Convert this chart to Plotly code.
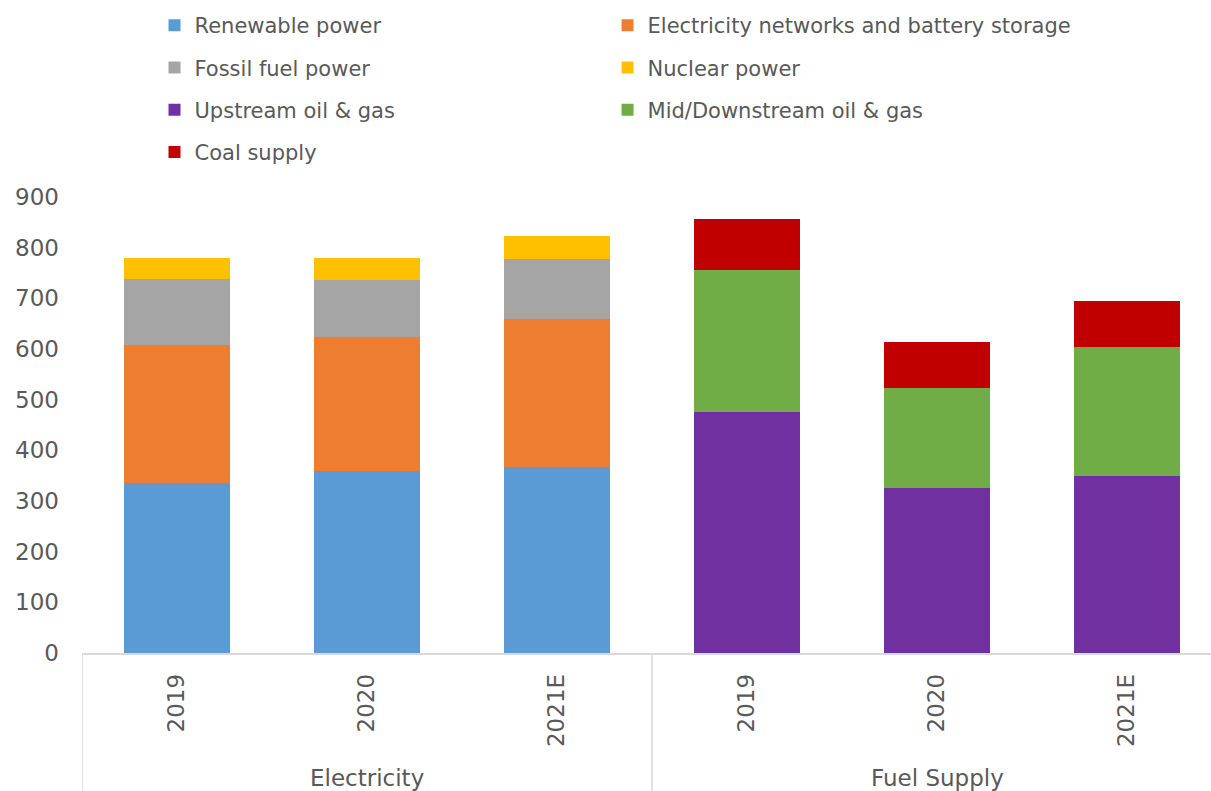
import plotly.graph_objects as go

positions = [0, 1, 2, 3, 4, 5]
tick_labels = ["2019", "2020", "2021E", "2019", "2020", "2021E"]
groups = ["Electricity", "Fuel Supply"]

renewable = [336, 359, 367, None, None, None]
networks = [272, 265, 292, None, None, None]
fossil = [130, 112, 119, None, None, None]
nuclear = [42, 44, 45, None, None, None]
upstream = [None, None, None, 476, 326, 349]
midstream = [None, None, None, 280, 197, 255]
coal = [None, None, None, 101, 91, 91]

series = [
    ("Renewable power", renewable, "#5B9BD5", "legend"),
    ("Electricity networks and battery storage", networks, "#ED7D31", "legend2"),
    ("Fossil fuel power", fossil, "#A5A5A5", "legend"),
    ("Nuclear power", nuclear, "#FFC000", "legend2"),
    ("Upstream oil & gas", upstream, "#7030A0", "legend"),
    ("Mid/Downstream oil & gas", midstream, "#70AD47", "legend2"),
    ("Coal supply", coal, "#C00000", "legend"),
]

FONT = "DejaVu Sans"
TXT = "#595959"
GRID = "#D9D9D9"

fig = go.Figure()
for i, (name, vals, color, lg) in enumerate(series):
    fig.add_trace(go.Bar(
        x=positions, y=vals, name=name, marker_color=color,
        marker_line_width=0, legend=lg, legendgroup=f"g{i}",
        width=0.56,
    ))

legend_common = dict(
    orientation="v", yanchor="top", xanchor="left",
    font=dict(family=FONT, size=21, color=TXT),
    bgcolor="rgba(0,0,0,0)", tracegroupgap=12, traceorder="grouped",
    itemclick=False, itemdoubleclick=False,
)

fig.update_layout(
    width=1222, height=791,
    margin=dict(l=82, r=0, t=197, b=138),
    paper_bgcolor="white", plot_bgcolor="white",
    barmode="stack", bargap=0.44,
    font=dict(family=FONT, color=TXT),
    showlegend=True,
    legend=dict(x=0.0636, y=1.421, **legend_common),
    legend2=dict(x=0.461, y=1.421, **legend_common),
    xaxis=dict(
        range=[-0.5, 5.5], tickmode="array", tickvals=positions,
        ticktext=tick_labels, tickangle=-90,
        tickfont=dict(family=FONT, size=23, color=TXT),
        showgrid=False, showline=True, linecolor=GRID, linewidth=1.5,
        ticks="", ticklabelstandoff=10, zeroline=False,
    ),
    yaxis=dict(
        range=[0, 900], dtick=100, showgrid=False, zeroline=False,
        showline=False, tickfont=dict(family=FONT, size=23, color=TXT),
        ticklabelstandoff=22,
    ),
)

for xv in [-0.5, 2.5]:
    fig.add_shape(type="line", xref="x", yref="paper", x0=xv, x1=xv,
                  y0=0, y1=-0.31, line=dict(color=GRID, width=1.5))

for j, g in enumerate(groups):
    fig.add_annotation(x=1 + 3 * j, y=-0.275, xref="x", yref="paper",
                       text=g, showarrow=False, yanchor="middle",
                       font=dict(family=FONT, size=23, color=TXT))

fig.write_html(
    "out.html",
    config={"displayModeBar": False},
    post_script="document.body.style.margin='0';document.body.style.overflow='hidden';",
)
